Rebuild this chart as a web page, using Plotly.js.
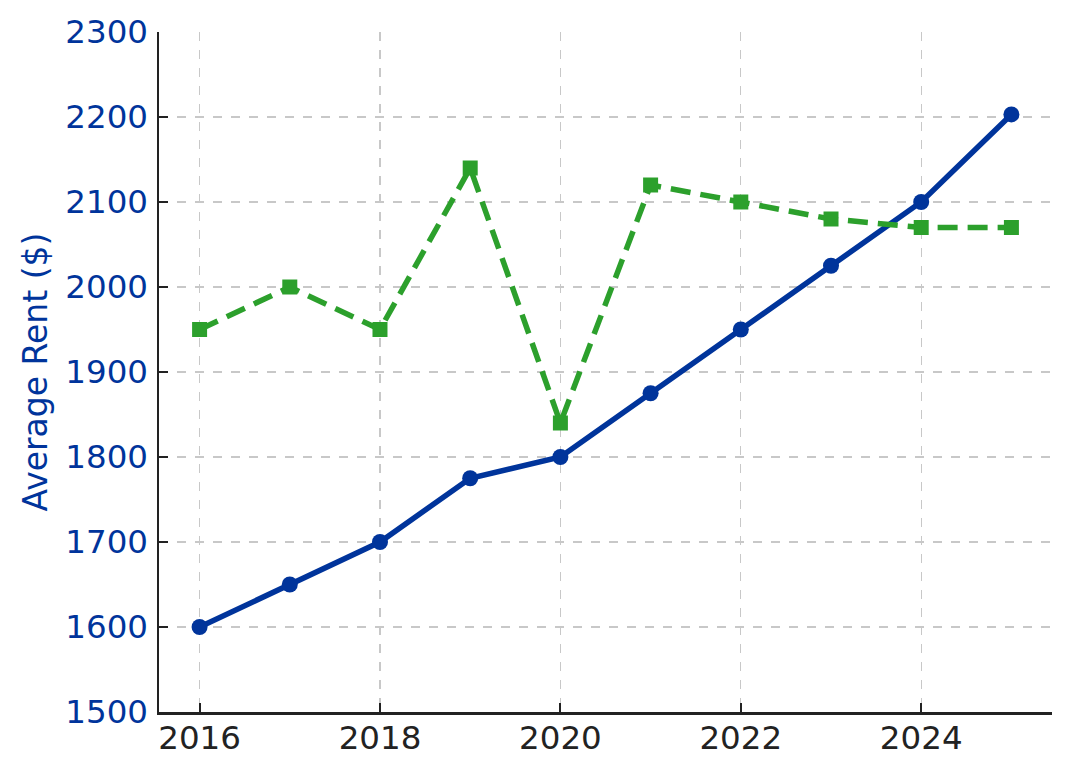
<!DOCTYPE html>
<html>
<head>
<meta charset="utf-8">
<script src="https://cdn.plot.ly/plotly-3.0.1.min.js"></script>
<style>
  html, body { margin: 0; padding: 0; background: #fff; }
  #chart { width: 1071px; height: 775px; }
</style>
</head>
<body>
<div id="chart"></div>
<script>
// years on the x axis
var years = [2016, 2017, 2018, 2019, 2020, 2021, 2022, 2023, 2024, 2025];
// average rent, solid blue line
var rentBlue = [1600, 1650, 1700, 1775, 1800, 1875, 1950, 2025, 2100, 2203];
// second series, dashed green line
var rentGreen = [1950, 2000, 1950, 2140, 1840, 2120, 2100, 2080, 2070, 2070];
var yTicks = [1500, 1600, 1700, 1800, 1900, 2000, 2100, 2200, 2300];
var xTicks = [2016, 2018, 2020, 2022, 2024];

var blue = '#00349b';
var green = '#2ca02c';

var trace1 = {
    x: years,
    y: rentBlue,
    mode: 'lines+markers',
    type: 'scatter',
    line: { color: blue, width: 5.5 },
    marker: { color: blue, symbol: 'circle', size: 16 },
    cliponaxis: false
};

var trace2 = {
    x: years,
    y: rentGreen,
    mode: 'lines+markers',
    type: 'scatter',
    line: { color: green, width: 5.5, dash: '20px,10px' },
    marker: { color: green, symbol: 'square', size: 15 },
    cliponaxis: false
};

var layout = {
    width: 1071,
    height: 775,
    margin: { l: 159, r: 19, t: 32, b: 63 },
    paper_bgcolor: '#fff',
    plot_bgcolor: '#fff',
    showlegend: false,
    font: { family: 'DejaVu Sans', size: 32, color: '#222' },
    xaxis: {
        range: [2015.55, 2025.45],
        tickvals: xTicks,
        ticktext: xTicks.map(String),
        ticks: 'inside',
        ticklen: 9,
        tickwidth: 2,
        tickcolor: '#222',
        showline: true,
        linecolor: '#222',
        linewidth: 2.5,
        showgrid: true,
        gridcolor: '#c8c8c8',
        griddash: 'dash',
        gridwidth: 1.3,
        zeroline: false,
        tickfont: { size: 32.5, color: '#222' },
        ticklabelstandoff: -5
    },
    yaxis: {
        range: [1500, 2300],
        tickvals: yTicks,
        ticks: 'inside',
        ticklen: 9,
        tickwidth: 2,
        tickcolor: '#222',
        showline: true,
        linecolor: '#222',
        linewidth: 2.5,
        showgrid: true,
        gridcolor: '#c8c8c8',
        griddash: 'dash',
        gridwidth: 1.3,
        zeroline: false,
        tickfont: { size: 32.5, color: blue },
        ticklabelstandoff: 2,
        title: { text: 'Average Rent ($)', font: { size: 33, color: blue }, standoff: 8 }
    }
};

Plotly.newPlot('chart', [trace1, trace2], layout, { displayModeBar: false, staticPlot: true });
</script>
</body>
</html>
